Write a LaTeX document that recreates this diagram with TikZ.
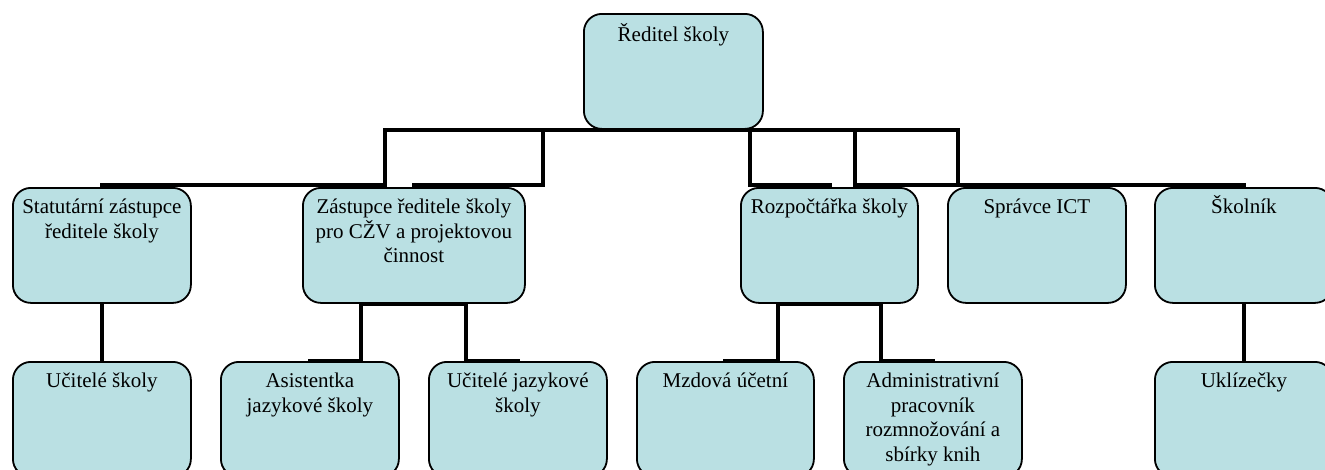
\documentclass[tikz,border=0pt]{standalone}
\usepackage{fontspec}
\setmainfont{Liberation Serif}
\definecolor{boxfill}{RGB}{186,224,227}
\begin{document}
\begin{tikzpicture}[x=1pt,y=-1pt,
  orgbox/.style={draw=black, line width=1.8pt, fill=boxfill, rounded corners=18pt,
    anchor=north west, inner sep=0pt, minimum width=178pt, minimum height=115pt},
  lbl/.style={anchor=base, align=center, inner sep=0pt,
    font=\fontsize{21pt}{24.5pt}\selectfont},
  conn/.style={draw=black, line width=4.5pt, line cap=rect, line join=miter}]
\useasboundingbox (0,0) rectangle (1325,469);
\clip (0,0) rectangle (1325,469);

% boxes
\node[orgbox, minimum width=179pt] (top) at (583,13) {};
\node[orgbox] (s1) at (12,187) {};
\node[orgbox, minimum width=222pt] (s2) at (302,187) {};
\node[orgbox, minimum width=177pt] (s3) at (740,187) {};
\node[orgbox] (s4) at (947,187) {};
\node[orgbox] (s5) at (1154,187) {};
\node[orgbox] (t1) at (12,361) {};
\node[orgbox] (t2) at (220,361) {};
\node[orgbox] (t3) at (428,361) {};
\node[orgbox, minimum width=177pt] (t4) at (636,361) {};
\node[orgbox] (t5) at (843,361) {};
\node[orgbox] (t6) at (1154,361) {};

% labels (base anchor = baseline of the last line)
\node[lbl] (topl) at ([yshift=-28.5pt]top.north) {Ředitel školy};
\node[lbl] (s1l) at ([yshift=-51pt]s1.north) {Statutární zástupce\\ředitele školy};
\node[lbl] (s2l) at ([yshift=-75.5pt]s2.north) {Zástupce ředitele školy\\pro CŽV a projektovou\\činnost};
\node[lbl] (s3l) at ([yshift=-26.5pt]s3.north) {Rozpočtářka školy};
\node[lbl] (s4l) at ([yshift=-26.5pt]s4.north) {Správce ICT};
\node[lbl] (s5l) at ([yshift=-26.5pt]s5.north) {Školník};
\node[lbl] (t1l) at ([yshift=-26.5pt]t1.north) {Učitelé školy};
\node[lbl] (t2l) at ([yshift=-51pt]t2.north) {Asistentka\\jazykové školy};
\node[lbl] (t3l) at ([yshift=-51pt]t3.north) {Učitelé jazykové\\školy};
\node[lbl] (t4l) at ([yshift=-26.5pt]t4.north) {Mzdová účetní};
\node[lbl] (t5l) at ([yshift=-100pt]t5.north) {Administrativní\\pracovník\\rozmnožování a\\sbírky knih};
\node[lbl] (t6l) at ([yshift=-26.5pt]t6.north) {Uklízečky};

% junctions of the upper level
\coordinate (j1) at (385,130);
\coordinate (j2) at (543,130);
\coordinate (j3) at (750,130);
\coordinate (j4) at (855,130);
\coordinate (j5) at (958,130);

\draw[conn] (j1) -- (j5);
\draw[conn] (j1) -- ++(0,55) -- ([yshift=2pt]s1.north);
\draw[conn] (j2) -- ++(0,55) -- ([yshift=2pt]s2.north);
\draw[conn] (j3) -- ++(0,55) -- ([yshift=2pt]s3.north);
\draw[conn] (j4) -- ++(0,55) -- ([yshift=2pt]s4.north);
\draw[conn] (j5) -- ++(0,55) -- ([yshift=2pt]s5.north);

% lower level
\draw[conn] (s1.south) -- (t1.north);
\draw[conn] (s5.south) -- (t6.north);
\draw[conn] ([xshift=-53pt]s2.south) -- ([xshift=52pt]s2.south);
\draw[conn] ([xshift=-53pt]s2.south) |- (t2.north);
\draw[conn] ([xshift=52pt]s2.south) |- (t3.north);
\draw[conn] ([xshift=-51.5pt]s3.south) -- ([xshift=51.5pt]s3.south);
\draw[conn] ([xshift=-51.5pt]s3.south) |- (t4.north);
\draw[conn] ([xshift=51.5pt]s3.south) |- (t5.north);
\end{tikzpicture}
\end{document}
